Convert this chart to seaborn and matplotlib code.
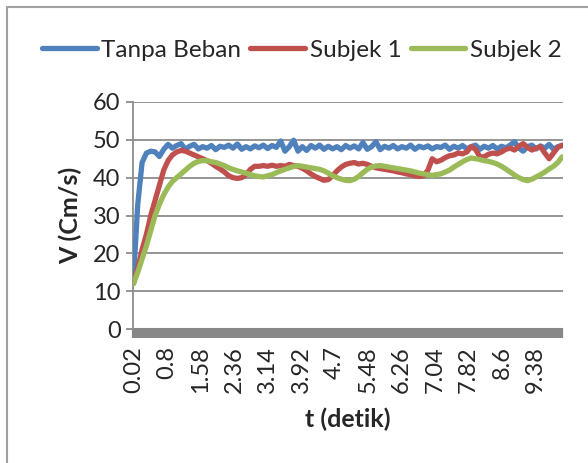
import numpy as np
import pandas as pd
import matplotlib.pyplot as plt
import seaborn as sns
from matplotlib.lines import Line2D

t = np.linspace(0.02, 10.0, 100)

tanpa_beban = [13, 33, 44, 46.5, 47, 46.8, 45.6, 47.5, 48.8, 47.8,
               48.5, 49, 47.5, 48.3, 48.8, 47.6, 48.2, 47.8, 48.5, 47.4,
               48.3, 48, 48.6, 47.8, 48.9, 47.5, 48.2, 47.6, 48.4, 47.9,
               48.6, 47.7, 48.5, 48, 49.7, 47, 48.2, 49.9, 47, 48.2,
               47.2, 48.5, 47.8, 48.6, 47.5, 48.3, 47.6, 48.2, 47.4, 48.5,
               47.8, 48.4, 47.6, 49.3, 47.5, 48.2, 49.5, 47.4, 48.3, 47.8,
               48.5, 47.6, 48.2, 47.8, 48.6, 47.5, 48.3, 47.9, 48.4, 47.6,
               48.2, 48, 48.6, 47.5, 48.3, 47.8, 48.5, 47.6, 48.2, 48.6,
               47.5, 48.3, 47.8, 48.5, 47.6, 48.3, 47.9, 48.6, 49.5, 47.8,
               47, 48.2, 48.6, 47.6, 48.4, 47.8, 48.8, 47.5, 48.2, 48.5]

subjek_1 = [12, 16, 21, 25, 30, 34, 38, 42, 44.5, 46,
            46.8, 47.2, 47, 46.5, 46, 45.5, 45, 44.5, 43.8, 43,
            42.3, 41.5, 40.5, 40, 39.8, 40, 40.8, 42.2, 43, 43,
            43.2, 43, 43.3, 43, 43.2, 43, 43.5, 43.2, 43, 42.5,
            41.8, 41, 40.3, 39.8, 39.3, 39.5, 40.5, 41.8, 42.8, 43.5,
            43.8, 44, 43.6, 43.8, 43.5, 43, 42.6, 42.4, 42.2, 42,
            41.8, 41.5, 41.3, 41, 40.8, 40.5, 40.3, 40.5, 42, 45,
            44.2, 44.6, 45.3, 45.8, 46, 46.5, 46.3, 46.8, 48.2, 47.5,
            45.5, 45.5, 46.2, 46.5, 46.3, 46.8, 47.5, 47.8, 47.3, 48.3,
            49, 48, 47.3, 47.8, 48.2, 46.5, 45, 46.5, 48, 48.6]

subjek_2 = [12, 15, 18.5, 22, 26, 30, 33, 35.5, 37.5, 39,
            40, 41, 42, 43, 43.8, 44.3, 44.5, 44.5, 44.2, 44,
            43.6, 43.2, 42.6, 42.2, 41.8, 41.5, 41.2, 40.8, 40.5, 40.3,
            40.2, 40.5, 40.8, 41.3, 41.8, 42.2, 42.6, 43, 43.2, 43,
            42.8, 42.6, 42.4, 42.2, 41.8, 41.2, 40.5, 40, 39.6, 39.3,
            39.2, 39.6, 40.3, 41.3, 42.2, 42.8, 43.1, 43.2, 43, 42.8,
            42.6, 42.4, 42.2, 42, 41.8, 41.5, 41.2, 41, 40.8, 40.6,
            40.8, 41, 41.5, 42, 42.8, 43.5, 44.2, 44.8, 45.2, 45,
            44.8, 44.5, 44.3, 44, 43.6, 43, 42.3, 41.5, 40.7, 40,
            39.5, 39.2, 39.6, 40.2, 40.8, 41.5, 42.3, 43, 44, 45.5]

series = ['Tanpa Beban', 'Subjek 1', 'Subjek 2']
colors = ['#4F81BD', '#C0504D', '#9BBB59']
tick_labels = ['0.02', '0.8', '1.58', '2.36', '3.14', '3.92', '4.7',
               '5.48', '6.26', '7.04', '7.82', '8.6', '9.38']

df = pd.DataFrame({'t': np.tile(t, 3),
                   'v': tanpa_beban + subjek_1 + subjek_2,
                   'seri': np.repeat(series, len(t))})

sns.set_style('white')
plt.rcParams['font.family'] = ['Lato', 'DejaVu Sans']

fig = plt.figure(figsize=(5.88, 4.63), dpi=100)
ax = fig.add_axes([133 / 588, 1 - 329 / 463, 430 / 588, 227 / 463])

sns.lineplot(data=df, x='t', y='v', hue='seri', palette=colors,
             linewidth=3.8, ax=ax, legend=False, zorder=3)

ax.set_xlim(0.01, 10.02)
ax.set_ylim(0, 60)
ax.set_yticks(range(0, 61, 10))
ax.yaxis.grid(True, color='#8c8c8c', linewidth=1.3)
ax.set_axisbelow(True)
for s in ['top', 'right', 'bottom']:
    ax.spines[s].set_visible(False)
ax.spines['left'].set_color('#8c8c8c')
ax.spines['left'].set_linewidth(1.3)

# dense category ticks form the grey band along the x axis
ax.set_xticks([float(v) for v in tick_labels])
ax.set_xticklabels(tick_labels, rotation=90, fontsize=17)
ax.set_xticks(np.arange(0.02, 10.01, 0.02), minor=True)
ax.tick_params(axis='x', which='both', length=6.5, width=1.6, color='#878787',
               direction='out', bottom=True, pad=6)
ax.tick_params(axis='y', length=5, width=1.3, color='#8c8c8c', left=True,
               labelsize=17, pad=4)
ax.axhline(0, color='#878787', linewidth=1.5, zorder=2)

ax.set_xlabel('t (detik)', fontsize=18, fontweight='bold', labelpad=10)
ax.set_ylabel('V (Cm/s)', fontsize=18, fontweight='bold', labelpad=8)

handles = [Line2D([], [], color=c, linewidth=3.8) for c in colors]
fig.legend(handles, series, loc='center', bbox_to_anchor=(302 / 588, 1 - 50 / 463),
           ncol=3, frameon=False, fontsize=17.5, handlelength=2.25,
           handletextpad=0.2, columnspacing=0.37, borderaxespad=0)

# chart border (only top and left visible in the crop)
fig.add_artist(Line2D([7 / 588, 7 / 588], [0, 1 - 7 / 463], color='#a0a0a0', linewidth=1.5))
fig.add_artist(Line2D([7 / 588, 1], [1 - 7 / 463, 1 - 7 / 463], color='#a0a0a0', linewidth=1.5))

fig.savefig('out.png', dpi=100)
